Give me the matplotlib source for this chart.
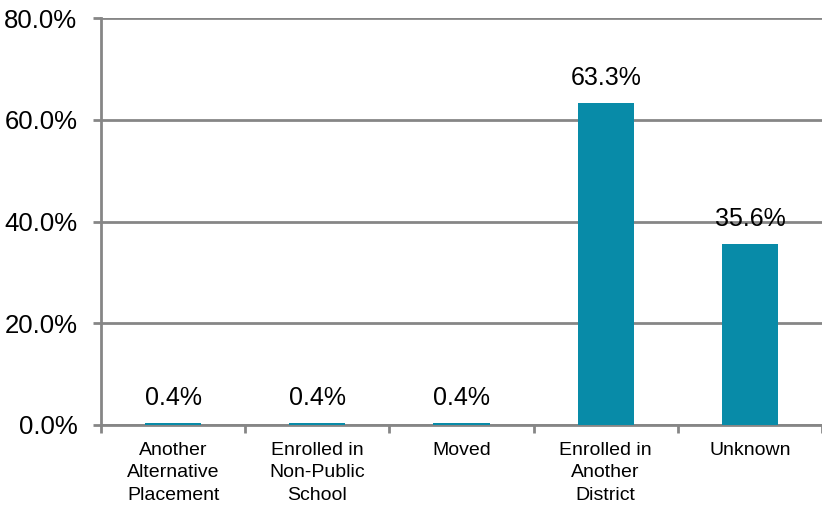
import matplotlib.pyplot as plt
import numpy as np

plt.rcParams['font.family'] = ['Liberation Sans', 'DejaVu Sans']

categorias = ["Another\nAlternative\nPlacement", "Enrolled in\nNon-Public\nSchool", "Moved",
              "Enrolled in\nAnother\nDistrict", "Unknown"]
valores = [0.4, 0.4, 0.4, 63.3, 35.6]
rotulos_y = ["0.0%", "20.0%", "40.0%", "60.0%", "80.0%"]

cor_barra = "#088ba8"
cinza = "#868686"

fig = plt.figure(figsize=(8.22, 5.09), dpi=100)
ax = fig.add_axes([101 / 822, 1 - 425 / 509, 1 - 101 / 822, (425 - 18) / 509])

x = np.arange(len(categorias))
ax.bar(x, valores, width=0.39, color=cor_barra, zorder=3)

for xi, v in zip(x, valores):
    ax.annotate(f"{v:.1f}%", (xi, v), xytext=(0, 9), textcoords="offset points",
                ha="center", va="bottom", fontsize=18, color="black")

ax.set_xlim(-0.5, len(categorias) - 0.5)
ax.set_ylim(0, 80)
ax.set_yticks([0, 20, 40, 60, 80])
ax.set_yticklabels(rotulos_y, fontsize=18.5)
ax.yaxis.grid(True, color=cinza, linewidth=2, zorder=0)

# categorias nos centros, marcas nas divisas
ax.set_xticks(x)
ax.set_xticklabels(categorias, fontsize=14, linespacing=1.42)
ax.set_xticks(np.arange(-0.5, len(categorias)), minor=True)
ax.tick_params(axis="x", which="major", length=0, pad=12)
ax.tick_params(axis="x", which="minor", length=6, width=2, color=cinza, direction="out")
ax.tick_params(axis="y", length=6, width=2, color=cinza, pad=11)

for lado in ["top", "right"]:
    ax.spines[lado].set_visible(False)
for lado in ["left", "bottom"]:
    ax.spines[lado].set_color(cinza)
    ax.spines[lado].set_linewidth(2)

fig.savefig("out.png", dpi=100)
